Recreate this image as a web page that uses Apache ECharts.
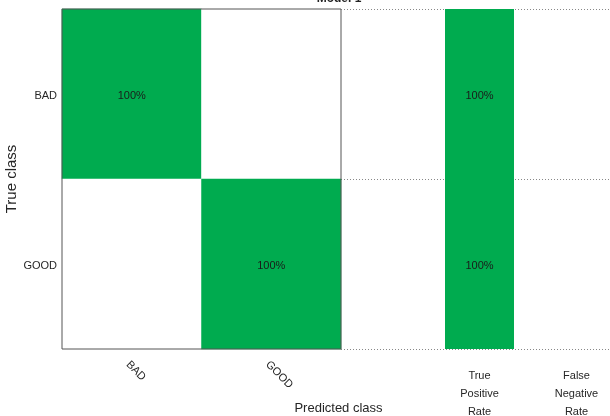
<!DOCTYPE html>
<html>
<head>
<meta charset="utf-8">
<script src="https://cdn.jsdelivr.net/npm/echarts@6/dist/echarts.min.js"></script>
<style>
  html, body { margin: 0; padding: 0; background: #fff; }
  #chart { width: 610px; height: 416px; }
</style>
</head>
<body>
<div id="chart"></div>
<script>
// Class names shared by both axes of the confusion matrix
const classes = ['BAD', 'GOOD'];
// Row-normalised confusion matrix (percent): rows = true class, cols = predicted class
const rowBad = [100, 0];
const rowGood = [0, 100];
// Row summary columns (percent)
const truePositiveRate = [100, 100];
const falseNegativeRate = [0, 0];
const summaryLabels = ['True\nPositive\nRate', 'False\nNegative\nRate'];

const GREEN = '#00ab4f';
const FONT = '"Liberation Sans", Arial, Helvetica, sans-serif';
const TEXT = '#262626';

const matrixRows = [rowBad, rowGood];
const heatData = [];
matrixRows.forEach((row, yi) => {
  row.forEach((v, xi) => {
    heatData.push({ value: [xi, yi, v], itemStyle: { color: v > 0 ? GREEN : '#ffffff' } });
  });
});

const pctLabel = v => (v > 0 ? v + '%' : '');
const cellLabel = {
  show: true, fontSize: 11, color: '#1a1a1a', fontFamily: FONT, offset: [0, 2]
};

const chart = echarts.init(document.getElementById('chart'), null, { renderer: 'canvas' });
chart.setOption({
  animation: false,
  backgroundColor: '#ffffff',
  textStyle: { fontFamily: FONT },
  title: {
    text: 'Model 1',
    left: 334, textAlign: 'center', top: -12,
    textStyle: { fontFamily: FONT, fontSize: 12, fontWeight: 'bold', color: '#222' }
  },
  grid: [
    // confusion matrix
    { left: 62, top: 9, width: 279, height: 340, show: true, z: 5, outerBoundsMode: 'none',
      backgroundColor: 'transparent', borderColor: '#555', borderWidth: 1 },
    // row summary bars
    { left: 431, top: 9, width: 194, height: 340, outerBoundsMode: 'none' },
    // dotted row separators of the summary panel
    { left: 341, top: 9, right: 0, height: 340, outerBoundsMode: 'none' }
  ],
  xAxis: [
    { type: 'category', gridIndex: 0, data: classes,
      name: 'Predicted class', nameLocation: 'middle', nameGap: 53,
      nameTextStyle: { fontFamily: FONT, fontSize: 13, color: TEXT, padding: [0, 0, 0, 274] },
      axisLine: { show: false }, axisTick: { show: false }, splitLine: { show: false },
      axisLabel: { rotate: -45, margin: 10, verticalAlign: 'top', fontSize: 11, color: TEXT,
        fontFamily: FONT } },
    { type: 'category', gridIndex: 1, data: summaryLabels,
      axisLine: { show: false }, axisTick: { show: false }, splitLine: { show: false },
      axisLabel: { margin: 18, fontSize: 11, lineHeight: 18, color: TEXT, fontFamily: FONT } },
    { type: 'category', gridIndex: 2, data: [''], show: false }
  ],
  yAxis: [
    { type: 'category', gridIndex: 0, data: classes, inverse: true,
      name: 'True class', nameLocation: 'middle', nameGap: 40, nameRotate: 90,
      nameTextStyle: { fontFamily: FONT, fontSize: 15, color: TEXT },
      axisLine: { show: false }, axisTick: { show: false }, splitLine: { show: false },
      axisLabel: { margin: 5, formatter: v => '{c|' + v + '}',
        rich: { c: { fontSize: 11, color: TEXT, fontFamily: FONT, padding: [4, 0, 0, 0] } } } },
    { type: 'value', gridIndex: 1, inverse: true, min: 0, max: 200, show: false },
    { type: 'category', gridIndex: 2, data: classes, inverse: true,
      axisLine: { show: false }, axisTick: { show: false }, axisLabel: { show: false },
      splitLine: { show: true, lineStyle: { color: '#888', type: [1, 2], width: 1 } } }
  ],
  series: [
    { type: 'heatmap', xAxisIndex: 0, yAxisIndex: 0, data: heatData,
      label: Object.assign({ formatter: p => pctLabel(p.value[2]) }, cellLabel),
      emphasis: { disabled: true } },
    { type: 'bar', xAxisIndex: 1, yAxisIndex: 1, stack: 'rows', barWidth: 69,
      data: [truePositiveRate[0], falseNegativeRate[0]],
      itemStyle: { color: GREEN },
      label: Object.assign({ position: 'inside', formatter: p => pctLabel(p.value) }, cellLabel) },
    { type: 'bar', xAxisIndex: 1, yAxisIndex: 1, stack: 'rows', barWidth: 69,
      data: [truePositiveRate[1], falseNegativeRate[1]],
      itemStyle: { color: GREEN },
      label: Object.assign({ position: 'inside', formatter: p => pctLabel(p.value) }, cellLabel) }
  ]
});
</script>
</body>
</html>
